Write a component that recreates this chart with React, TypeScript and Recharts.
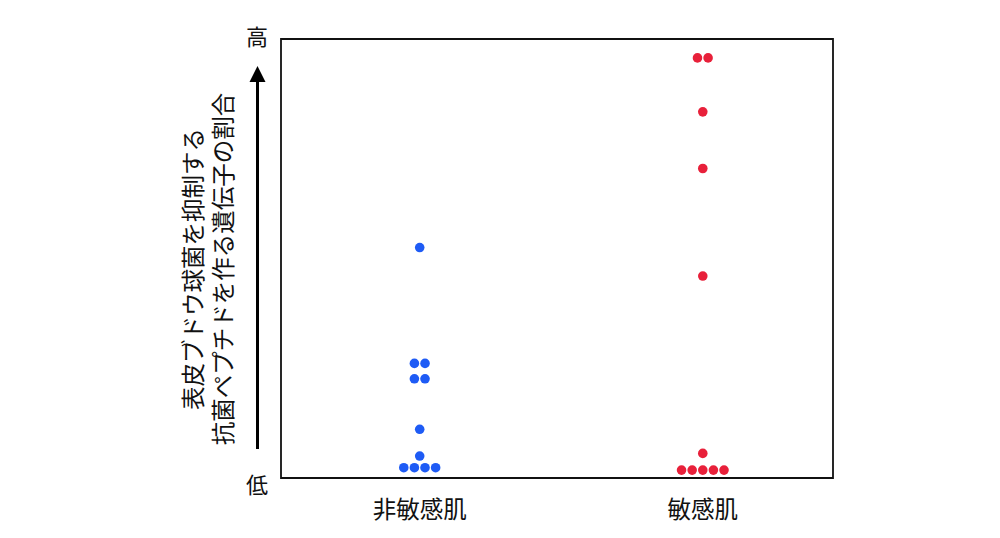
import React from "react";
import { ScatterChart, Scatter, XAxis, YAxis, ReferenceArea } from "recharts";

const categories = ["非敏感肌", "敏感肌"];
const nonSensitiveValues = [52.5, 26.1, 26.1, 22.6, 22.6, 11.1, 5.0, 2.35, 2.35, 2.35, 2.35];
const nonSensitiveSlots = [0, -0.5, 0.5, -0.5, 0.5, 0, 0, -1.5, -0.5, 0.5, 1.5];
const sensitiveValues = [95.7, 95.7, 83.4, 70.5, 46.0, 5.6, 1.8, 1.8, 1.8, 1.8, 1.8];
const sensitiveSlots = [-0.5, 0.5, 0, 0, 0, 0, -2, -1, 0, 1, 2];
const axisLabelLines = ["表皮ブドウ球菌を抑制する", "抗菌ペプチドを作る遺伝子の割合"];
const highLabel = "高";
const lowLabel = "低";

const X_DOMAIN: [number, number] = [-0.49, 1.46];
const SLOT = 0.0375;

const build = (idx: number, values: number[], slots: number[]) =>
  values.map((v, i) => ({ x: idx + slots[i] * SLOT, y: v }));

const nonSensitiveData = build(0, nonSensitiveValues, nonSensitiveSlots);
const sensitiveData = build(1, sensitiveValues, sensitiveSlots);

const FONT = "'Noto Sans CJK JP', 'Noto Sans', sans-serif";

const dot = (color: string) => (props: any) =>
  <circle cx={props.cx} cy={props.cy} r={4.8} fill={color} />;

const Tick = (props: any) => {
  const { x, y, payload } = props;
  return (
    <text x={x} y={y + 22} textAnchor="middle" dominantBaseline="central"
      fontSize={23.5} fill="#111" fontFamily={FONT}>
      {categories[payload.value]}
    </text>
  );
};

export default function App() {
  return (
    <div style={{ position: "relative", width: 984, height: 522, fontFamily: FONT }}>
      <ScatterChart width={984} height={522}
        margin={{ top: 31, right: 159, bottom: 0, left: 273 }}>
        <XAxis type="number" dataKey="x" domain={X_DOMAIN} ticks={[0, 1]}
          axisLine={false} tickLine={false} height={52} tick={<Tick />} allowDataOverflow />
        <YAxis type="number" dataKey="y" domain={[0, 100]} hide allowDataOverflow />
        <ReferenceArea x1={X_DOMAIN[0]} x2={X_DOMAIN[1]} y1={0} y2={100}
          fill="none" stroke="#111" strokeWidth={1.8} fillOpacity={0} strokeOpacity={1} />
        <Scatter data={nonSensitiveData} fill="#1e5bf5" shape={dot("#1e5bf5")} isAnimationActive={false} />
        <Scatter data={sensitiveData} fill="#e8203a" shape={dot("#e8203a")} isAnimationActive={false} />
      </ScatterChart>
      <svg width={1000} height={538}
        style={{ position: "absolute", left: -8, top: -8, pointerEvents: "none" }}>
        <line x1={257.5} y1={449} x2={257.5} y2={80} stroke="#000" strokeWidth={3} />
        <polygon points="257.5,66 249.5,82 265.5,82" fill="#000" />
        <text x={257} y={35} textAnchor="middle" dominantBaseline="central"
          fontSize={22} fill="#111" fontFamily={FONT}>{highLabel}</text>
        <text x={257} y={483} textAnchor="middle" dominantBaseline="central"
          fontSize={22} fill="#111" fontFamily={FONT}>{lowLabel}</text>
        <g transform="translate(207,269) rotate(-90)">
          <text x={0} y={-15} textAnchor="middle" dominantBaseline="central"
            fontSize={23.5} fill="#111" fontFamily={FONT}>{axisLabelLines[0]}</text>
          <text x={0} y={15} textAnchor="middle" dominantBaseline="central"
            fontSize={23.5} fill="#111" fontFamily={FONT}>{axisLabelLines[1]}</text>
        </g>
      </svg>
    </div>
  );
}
